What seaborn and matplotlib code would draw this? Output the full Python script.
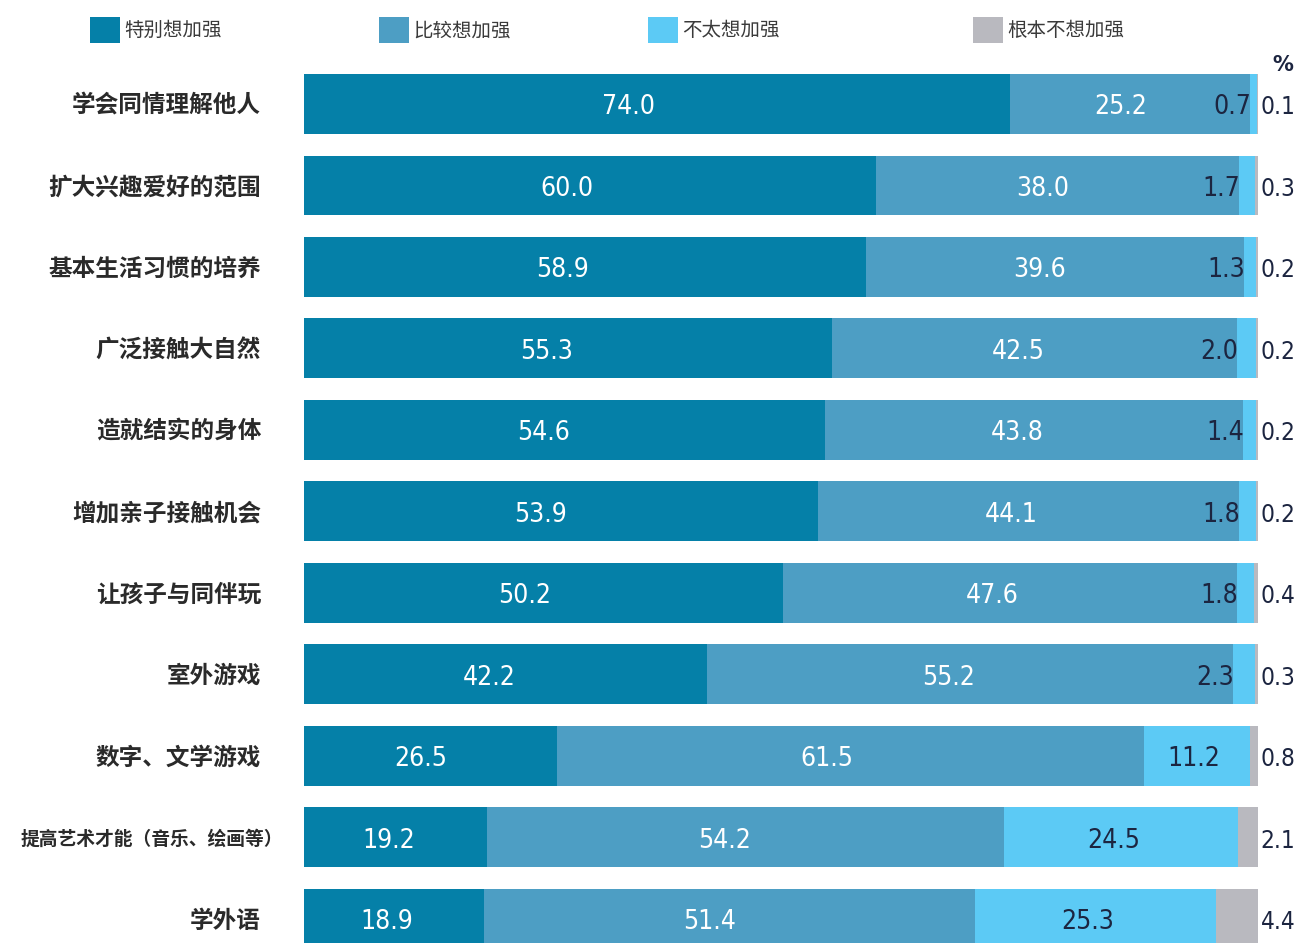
import pandas as pd
import seaborn as sns
import matplotlib.pyplot as plt
from matplotlib.patches import Patch
from matplotlib import font_manager
from matplotlib.font_manager import FontProperties
from matplotlib.transforms import blended_transform_factory

# 数据
categories = ['学会同情理解他人', '扩大兴趣爱好的范围', '基本生活习惯的培养', '广泛接触大自然',
              '造就结实的身体', '增加亲子接触机会', '让孩子与同伴玩', '室外游戏',
              '数字、文学游戏', '提高艺术才能（音乐、绘画等）', '学外语']
series_names = ['特别想加强', '比较想加强', '不太想加强', '根本不想加强']
very_much = [74.0, 60.0, 58.9, 55.3, 54.6, 53.9, 50.2, 42.2, 26.5, 19.2, 18.9]
fairly = [25.2, 38.0, 39.6, 42.5, 43.8, 44.1, 47.6, 55.2, 61.5, 54.2, 51.4]
not_much = [0.7, 1.7, 1.3, 2.0, 1.4, 1.8, 1.8, 2.3, 11.2, 24.5, 25.3]
not_at_all = [0.1, 0.3, 0.2, 0.2, 0.2, 0.2, 0.4, 0.3, 0.8, 2.1, 4.4]

colors = ['#0580a8', '#4d9ec4', '#5ccaf5', '#b9b9bf']
dark_text = '#1c2540'

# 数字用窄体字，找不到就用 Liberation Sans
narrow = None
for f in font_manager.fontManager.ttflist:
    if f.name == 'Liberation Sans Narrow' and f.weight in (400, 'normal', 'regular') and f.style == 'normal':
        narrow = f.fname
        break
if narrow is None:
    for f in font_manager.fontManager.ttflist:
        if (f.name in ('DejaVu Sans', 'Noto Sans', 'Open Sans', 'Roboto', 'Lato', 'Inter')
                and f.stretch in ('condensed', 'semi-condensed', 'extra-condensed')
                and f.weight in (400, 'normal', 'regular') and f.style == 'normal'):
            narrow = f.fname
            break
if narrow is not None:
    num_prop = FontProperties(fname=narrow, size=19)
    side_prop = FontProperties(fname=narrow, size=17.5)
else:
    num_prop = FontProperties(family='Liberation Sans', size=19)
    side_prop = FontProperties(family='Liberation Sans', size=17.5)

sns.set_style('white')
plt.rcParams['font.family'] = ['Noto Sans CJK SC', 'DejaVu Sans']

df = pd.DataFrame({'cat': categories, 's1': very_much, 's2': fairly,
                   's3': not_much, 's4': not_at_all})
df['c1'] = df['s1']
df['c2'] = df['c1'] + df['s2']
df['c3'] = df['c2'] + df['s3']
df['c4'] = df['c3'] + df['s4']

fig = plt.figure(figsize=(12.99, 9.43), dpi=100)
ax = fig.add_axes([304 / 1299, 0, 954 / 1299, 879.75 / 943])

# 累计值从大到小叠加绘制
for col, c in zip(['c4', 'c3', 'c2', 'c1'], colors[::-1]):
    sns.barplot(data=df, x=col, y='cat', color=c, saturation=1, width=0.736,
                orient='h', linewidth=0, ax=ax)

ax.set_xlim(0, 100)
ax.set_ylim(10.295, -0.5)
ax.set_xlabel('')
ax.set_ylabel('')
ax.set_xticks([])
ax.set_yticklabels([])
ax.tick_params(axis='y', length=0)
sns.despine(ax=ax, left=True, bottom=True)

# 类别标签
trans = blended_transform_factory(fig.transFigure, ax.transData)
for i, cat in enumerate(categories):
    if len(cat) > 10:
        fig.text(283 / 1299, i + 0.02, cat, transform=trans, ha='right', va='center',
                 fontsize=13.5, fontweight='bold', color='#2a2a2a')
    else:
        fig.text(261 / 1299, i + 0.02, cat, transform=trans, ha='right', va='center',
                 fontsize=17, fontweight='bold', color='#2a2a2a')

for i, r in df.iterrows():
    y = i + 0.04
    ax.text(r['s1'] * 0.46, y, f"{r['s1']:.1f}", color='white', ha='center', va='center',
            fontproperties=num_prop)
    ax.text(r['c1'] + r['s2'] * 0.46, y, f"{r['s2']:.1f}", color='white', ha='center',
            va='center', fontproperties=num_prop)
    if r['s3'] < 5:
        ax.text(r['c2'] + 0.1, y, f"{r['s3']:.1f}", color=dark_text, ha='right',
                va='center', fontproperties=num_prop)
    else:
        ax.text(r['c2'] + r['s3'] * 0.47, y, f"{r['s3']:.1f}", color=dark_text, ha='center',
                va='center', fontproperties=num_prop)
    ax.text(100.3, y, f"{r['s4']:.1f}", color=dark_text, ha='left', va='center',
            fontproperties=side_prop)

fig.text(1283 / 1299, 1 - 65 / 943, '%', color=dark_text, fontsize=15, fontweight='bold',
         ha='center', va='center', family='DejaVu Sans')

# 图例
leg_x = [90, 379, 648, 973]
for name, c, x in zip(series_names, colors, leg_x):
    leg = fig.legend(handles=[Patch(facecolor=c, edgecolor='none', label=name)],
                     loc='center left', bbox_to_anchor=(x / 1299, 1 - 30 / 943),
                     frameon=False, fontsize=14, handlelength=1.55, handleheight=1.7,
                     handletextpad=0.2, borderpad=0, borderaxespad=0)
    for t in leg.get_texts():
        t.set_color('#3a3a3a')

fig.savefig('out.png', dpi=100)
